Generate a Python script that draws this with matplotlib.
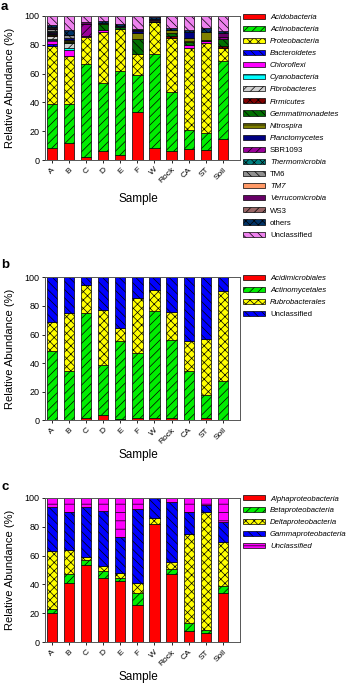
import numpy as np
import matplotlib
matplotlib.use("Agg")
import matplotlib.pyplot as plt
from matplotlib.patches import Patch

plt.rcParams['font.family'] = ['Liberation Sans', 'DejaVu Sans']
plt.rcParams['hatch.linewidth'] = 0.5

samples = ["A", "B", "C", "D", "E", "F", "W", "Rock", "CA", "ST", "Soil"]

# ---- Panel a: phyla ----
phyla = ["Acidobacteria", "Actinobacteria", "Proteobacteria", "Bacteroidetes",
         "Chloroflexi", "Cyanobacteria", "Fibrobacteres", "Firmicutes",
         "Gemmatimonadetes", "Nitrospira", "Planctomycetes", "SBR1093",
         "Thermomicrobia", "TM6", "TM7", "Verrucomicrobia", "WS3", "others",
         "Unclassified"]
acidobacteria = [8, 11.5, 2, 6.5, 3.5, 33, 8, 6, 7.5, 7, 14.5]
actinobacteria = [31, 27.5, 64.5, 47, 58, 26, 65.5, 41, 13.5, 12, 54.5]
proteobacteria = [40.5, 33, 19, 35.5, 29.5, 14.5, 22, 37.5, 56.5, 62, 8.5]
bacteroidetes = [1, 0.5, 0, 0, 0, 0, 0, 0, 0, 0, 0]
chloroflexi = [3, 4, 0.5, 1, 0, 0, 0, 0, 2.5, 1.5, 0]
cyanobacteria = [0.5, 1.5, 0, 0, 0, 0, 0, 0, 0, 0, 0]
fibrobacteres = [2, 3, 0, 0, 0, 0, 0, 0, 0, 0, 0]
firmicutes = [0.5, 0.5, 0, 0, 0, 0, 0, 1.5, 0, 0, 1.5]
gemmatimonadetes = [0.5, 0.5, 0, 4.5, 1.5, 10.5, 0, 2.5, 2, 0.5, 5]
nitrospira = [0.5, 1.5, 0, 0.5, 0, 4.5, 0.5, 1.5, 3, 6, 0]
planctomycetes = [1, 1, 0, 0, 0, 1, 0.5, 0, 4, 0, 0]
sbr1093 = [0.5, 0, 8.5, 0, 0, 0, 0, 0, 0, 0, 1.5]
thermomicrobia = [0.5, 0, 0, 0, 0, 0, 0, 0, 0, 0, 0]
tm6 = [1.5, 2, 0, 0, 0, 0, 0, 0, 0, 0, 0]
tm7 = [0.3, 0, 0, 0, 0, 0, 0.8, 0, 0, 0, 0]
verrucomicrobia = [0.7, 0.5, 1.5, 0, 0.5, 0.5, 0.7, 0, 0, 0, 3]
ws3 = [0.3, 0, 0, 0, 0, 0, 0, 0.5, 0, 0, 0]
others = [1.2, 3, 0, 1.5, 1.5, 1, 1, 1.5, 1.5, 2.5, 1]
unclassified_a = [6.5, 10, 4, 3.5, 5.5, 9, 1, 8, 9.5, 8.5, 10.5]

# ---- Panel b: Actinobacteria orders ----
orders = ["Acidimicrobiales", "Actinomycetales", "Rubrobacterales", "Unclassified"]
acidimicrobiales = [0.5, 0.3, 1.4, 3.5, 0.8, 1.9, 1.4, 1.6, 0.2, 1.5, 0.3]
actinomycetales = [48.2, 34.4, 73.4, 35.4, 54.4, 45.4, 75.3, 54.6, 34.3, 16.2, 27.4]
rubrobacterales = [19.8, 40.1, 19.6, 38.3, 9.1, 38.0, 14.6, 19.8, 20.7, 38.9, 63.0]
unclassified_b = [31.5, 25.2, 5.6, 22.8, 35.7, 14.7, 8.7, 24.0, 44.8, 43.4, 9.3]

# ---- Panel c: Proteobacteria classes ----
classes = ["Alphaproteobacteria", "Betaproteobacteria", "Deltaproteobacteria",
           "Gammaproteobacteria", "Unclassified"]
alpha = [20.5, 40.8, 53.4, 44.2, 42.6, 26.0, 81.6, 47.0, 7.7, 6.7, 33.9]
beta = [2.8, 6.2, 3.5, 4.9, 2.1, 7.9, 0.5, 4.0, 5.4, 1.8, 5.1]
delta = [39.8, 16.8, 2.3, 3.9, 3.5, 6.9, 4.2, 4.2, 61.5, 81.5, 30.6]
gamma = [30.7, 26.5, 34.4, 38.0, 24.4, 51.2, 13.4, 42.0, 15.2, 5.0, 13.4]
unclassified_c = [6.2, 9.7, 6.4, 9.0, 27.4, 8.0, 0.3, 2.8, 10.2, 5.0, 17.0]

series_a = [acidobacteria, actinobacteria, proteobacteria, bacteroidetes, chloroflexi,
            cyanobacteria, fibrobacteres, firmicutes, gemmatimonadetes, nitrospira,
            planctomycetes, sbr1093, thermomicrobia, tm6, tm7, verrucomicrobia, ws3,
            others, unclassified_a]
styles_a = [("#ff0000", ""), ("#00ee00", "////"), ("#ffff00", "xxxx"), ("#0000ff", "\\\\\\\\"),
            ("#ff00ff", "-"), ("#00ffff", "-"), ("#d0d0d0", "////"), ("#800000", "xxxx"),
            ("#007000", "\\\\\\\\"), ("#808000", "-"), ("#000080", "-"), ("#990099", "////"),
            ("#008080", "xxxx"), ("#909090", "\\\\\\\\"), ("#ff9966", "-"), ("#660066", "-"),
            ("#996666", "////"), ("#003366", "xxxx"), ("#ee82ee", "\\\\\\\\")]
italic_a = [True] * 11 + [False, True, False, True, True, False, False, False]

series_b = [acidimicrobiales, actinomycetales, rubrobacterales, unclassified_b]
styles_b = [("#ff0000", ""), ("#00ee00", "////"), ("#ffff00", "xxxx"), ("#0000ff", "\\\\\\\\")]
italic_b = [True, True, True, False]

series_c = [alpha, beta, delta, gamma, unclassified_c]
styles_c = [("#ff0000", ""), ("#00ee00", "////"), ("#ffff00", "xxxx"), ("#0000ff", "\\\\\\\\"),
            ("#ff00ff", "--")]
italic_c = [True, True, True, True, True]

W, H = 355, 685
fig = plt.figure(figsize=(W / 100, H / 100), dpi=100)

def fx(px):
    return px / W

def fy(py):
    return 1 - py / H

panels = [
    ("a", series_a, styles_a, phyla, italic_a, 16, 160, 7, 12.1, 199),
    ("b", series_b, styles_b, orders, italic_b, 277.3, 420.3, 265, 12.0, 455),
    ("c", series_c, styles_c, classes, italic_c, 497.7, 642.3, 487, 11.9, 677),
]

x = np.arange(len(samples))
for letter, series, styles, names, italics, top, bot, ly, rowsp, sy in panels:
    ax = fig.add_axes([fx(45), fy(bot), fx(240) - fx(45), (bot - top) / H])
    bottom = np.zeros(len(samples))
    for vals, (col, hat) in zip(series, styles):
        v = np.array(vals, dtype=float)
        lw = np.where(v > 0, 0.5, 0.0)
        ax.bar(x, v, width=0.6, bottom=bottom, color=col, hatch=hat,
               edgecolor="black", linewidth=lw)
        bottom += v
    ax.set_xlim(-0.4, 11.0)
    ax.set_ylim(0, 100)
    ax.set_yticks([0, 20, 40, 60, 80, 100])
    ax.tick_params(axis="y", labelsize=6.5, length=2.5, width=0.6, pad=1.5, direction="out")
    ax.set_xticks(x)
    ax.set_xticklabels(samples, rotation=45, ha="right", va="top",
                       rotation_mode="anchor", fontsize=6)
    ax.tick_params(axis="x", length=2.5, width=0.6, pad=2, direction="out")
    for s in ax.spines.values():
        s.set_color("#555555")
        s.set_linewidth(0.7)
    # y label, x label, panel letter
    fig.text(fx(10), fy((top + bot) / 2), "Relative Abundance (%)", rotation=90,
             ha="center", va="center", fontsize=8)
    fig.text(fx(138), fy(sy), "Sample", ha="center", va="center", fontsize=8.5)
    fig.text(fx(1), fy(ly), letter, ha="left", va="center", fontsize=9.5, fontweight="bold")
    # legend
    handles = [Patch(facecolor=c, hatch=h, edgecolor="black", linewidth=0.5)
               for c, h in styles]
    fs = 5.6
    fs_px = fs * 100 / 72
    leg = fig.legend(handles, names, loc="upper left",
                     bbox_to_anchor=(fx(243), fy(top - 2.5)),
                     frameon=False, fontsize=fs, handlelength=22 / fs_px,
                     handleheight=5 / fs_px, handletextpad=5 / fs_px,
                     labelspacing=(rowsp - 7.3) / fs_px, borderpad=0,
                     borderaxespad=0)
    for t, it in zip(leg.get_texts(), italics):
        t.set_fontstyle("italic" if it else "normal")

fig.savefig("out.png", dpi=100)
